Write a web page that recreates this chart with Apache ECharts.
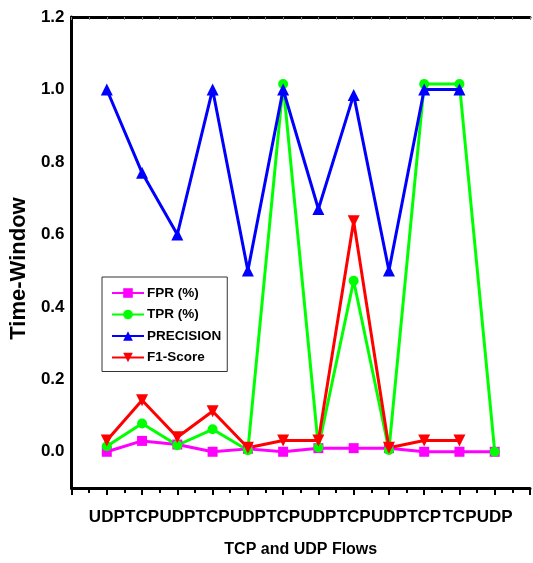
<!DOCTYPE html>
<html>
<head>
<meta charset="utf-8">
<script src="https://cdn.jsdelivr.net/npm/echarts@6/dist/echarts.min.js"></script>
<style>
  html, body { margin: 0; padding: 0; background: #fff; }
  #chart { width: 533px; height: 563px; }
</style>
</head>
<body>
<div id="chart"></div>
<script>
// Flow type for each position on the x axis
const flows = ['UDP', 'TCP', 'UDP', 'TCP', 'UDP', 'TCP', 'UDP', 'TCP', 'UDP', 'TCP', 'TCP', 'UDP'];

// Metric values per flow
const fpr = [0.0, 0.03, 0.02, 0.0, 0.008, 0.0, 0.01, 0.01, 0.01, 0.0, 0.0, 0.0];
const tpr = [0.015, 0.078, 0.018, 0.062, 0.004, 1.015, 0.012, 0.472, 0.005, 1.015, 1.015, 0.0];
const precision = [1.0, 0.77, 0.6, 1.0, 0.5, 1.0, 0.67, 0.985, 0.5, 1.0, 1.0];
const f1 = [0.031, 0.142, 0.04, 0.112, 0.011, 0.031, 0.031, 0.636, 0.011, 0.031, 0.031];

// Y tick labels shown on the left axis
const yTickLabels = ['0.0', '0.2', '0.4', '0.6', '0.8', '1.0', '1.2'];

const sans = '"Liberation Sans", Arial, sans-serif';

const toPoints = arr => arr.map((v, i) => [i + 1, v]);

function lineSeries(name, data, color, symbol, size, rotate) {
  return {
    name: name,
    type: 'line',
    data: toPoints(data),
    symbol: symbol,
    symbolSize: size,
    symbolRotate: rotate || 0,
    showAllSymbol: true,
    lineStyle: { color: color, width: 3 },
    itemStyle: { color: color, borderWidth: 0 },
    emphasis: { disabled: true },
    z: 3
  };
}

const chart = echarts.init(document.getElementById('chart'), null, { renderer: 'canvas' });

chart.setOption({
  animation: false,
  backgroundColor: '#ffffff',
  grid: { left: 68, top: 17, width: 469, height: 472, containLabel: false },
  legend: {
    orient: 'vertical',
    left: 102,
    top: 277,
    backgroundColor: '#ffffff',
    borderColor: '#333333',
    borderWidth: 1,
    borderRadius: 0,
    padding: [9, 6, 7, 9],
    itemWidth: 32,
    itemHeight: 12,
    itemGap: 7.5,
    textStyle: { fontFamily: sans, fontWeight: 'bold', fontSize: 13.5, color: '#000', padding: [0, 0, 0, -2] },
    data: ['FPR (%)', 'TPR (%)', 'PRECISION', 'F1-Score']
  },
  xAxis: [
    {
      type: 'value',
      position: 'bottom',
      min: 0,
      max: 13,
      interval: 1,
      splitLine: { show: false },
      axisLine: { show: true, onZero: false, lineStyle: { color: '#000', width: 3 } },
      axisTick: { show: true, inside: false, length: 7, lineStyle: { color: '#000', width: 2 } },
      minorTick: { show: true, splitNumber: 2, length: 5, lineStyle: { color: '#000', width: 2 } },
      axisLabel: {
        margin: 21,
        fontFamily: sans,
        fontWeight: 'bold',
        fontSize: 17,
        color: '#000',
        formatter: v => flows[Math.round(v) - 1] || ''
      },
      name: 'TCP and UDP Flows',
      nameLocation: 'middle',
      nameGap: 54,
      nameTextStyle: { fontFamily: sans, fontWeight: 'bold', fontSize: 16, color: '#000' }
    },
    {
      type: 'value',
      position: 'top',
      min: 0,
      max: 13,
      interval: 0.5,
      splitLine: { show: false },
      axisLine: { show: true, onZero: false, lineStyle: { color: '#000', width: 3 } },
      axisTick: { show: true, inside: true, length: 3, lineStyle: { color: '#888', width: 1 } },
      axisLabel: { show: false }
    }
  ],
  yAxis: {
    type: 'value',
    min: -0.1,
    max: 1.2,
    interval: 0.1,
    splitLine: { show: false },
    axisLine: { show: true, onZero: false, lineStyle: { color: '#000', width: 3 } },
    axisTick: { show: false },
    axisLabel: {
      margin: 7,
      fontFamily: sans,
      fontWeight: 'bold',
      fontSize: 17,
      color: '#000',
      formatter: v => {
        const k = Math.round(v * 10);
        return (k >= 0 && k % 2 === 0) ? yTickLabels[k / 2] : '';
      }
    },
    name: 'Time-Window',
    nameLocation: 'middle',
    nameGap: 34,
    nameTextStyle: { fontFamily: sans, fontWeight: 'bold', fontSize: 22, color: '#000', padding: [0, 32, 0, 0] }
  },
  series: [
    lineSeries('FPR (%)', fpr, '#ff00ff', 'rect', 10),
    lineSeries('TPR (%)', tpr, '#00ff00', 'circle', 10),
    lineSeries('PRECISION', precision, '#0000ff', 'triangle', 12),
    lineSeries('F1-Score', f1, '#ff0000', 'triangle', 12, 180)
  ]
});
</script>
</body>
</html>
